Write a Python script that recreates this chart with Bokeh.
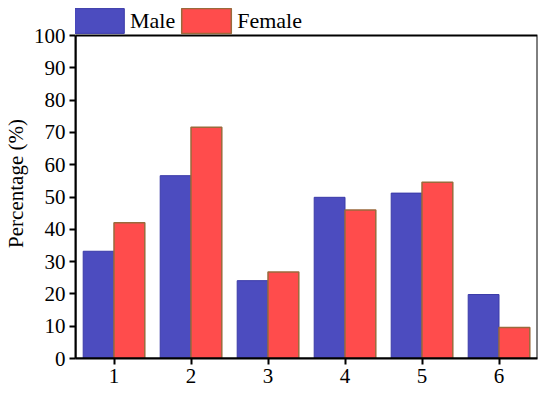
from bokeh.plotting import figure
from bokeh.models import ColumnDataSource, Legend, LegendItem, FixedTicker, Range1d, BoxAnnotation
from bokeh.embed import file_html
from bokeh.resources import INLINE

groups = [1, 2, 3, 4, 5, 6]
male = [33.2, 56.6, 24.1, 49.9, 51.2, 19.8]
female = [42.0, 71.6, 26.8, 46.0, 54.6, 9.6]
y_ticks = [0, 10, 20, 30, 40, 50, 60, 70, 80, 90, 100]

FONT = "Liberation Serif"
Y_MAX = 100
Y_TOP = Y_MAX * 350 / 323  # extra head room for the legend above the box

p = figure(width=550, height=396, output_backend="svg",
           toolbar_location=None, x_range=Range1d(0.5, 6.5), y_range=Range1d(0, Y_TOP),
           min_border_top=8, min_border_left=75, min_border_right=13, min_border_bottom=38)

src_m = ColumnDataSource(dict(x=[g - 0.2 for g in groups], top=male))
src_f = ColumnDataSource(dict(x=[g + 0.2 for g in groups], top=female))
rm = p.vbar(x="x", top="top", width=0.4, bottom=0, source=src_m,
            fill_color="#4C4CBF", line_color="#3A3AA8", line_width=1)
rf = p.vbar(x="x", top="top", width=0.4, bottom=0, source=src_f,
            fill_color="#FF4C4C", line_color="#9A6A3C", line_width=1.5)

p.xgrid.visible = False
p.ygrid.visible = False
p.outline_line_color = None

box = BoxAnnotation(left=0.5, right=6.5, bottom=0, top=Y_MAX, fill_alpha=0,
                    line_color="black", line_width=2, line_alpha=1)
p.add_layout(box)

for ax in (p.xaxis[0], p.yaxis[0]):
    ax.axis_line_width = 2
    ax.major_tick_line_width = 2
    ax.major_tick_in = 0
    ax.major_tick_out = 6
    ax.minor_tick_line_color = None
    ax.major_label_text_font = FONT
    ax.major_label_text_font_size = "21px"
    ax.major_label_text_color = "black"
    ax.major_label_standoff = 4

p.xaxis.ticker = FixedTicker(ticks=groups)
p.yaxis.ticker = FixedTicker(ticks=y_ticks)
p.yaxis.bounds = (0, Y_MAX)
p.yaxis.axis_label = "Percentage (%)"
p.yaxis.axis_label_text_font = FONT
p.yaxis.axis_label_text_font_size = "21px"
p.yaxis.axis_label_text_font_style = "normal"
p.yaxis.axis_label_text_color = "black"
p.yaxis.axis_label_standoff = 3

legend = Legend(items=[LegendItem(label="Male", renderers=[rm]),
                       LegendItem(label="Female", renderers=[rf])],
                orientation="horizontal", location=(-7, 322),
                glyph_width=62, glyph_height=31, label_height=31,
                label_text_font=FONT, label_text_font_size="22px",
                label_text_color="black", label_text_baseline="middle",
                label_standoff=0, spacing=0, padding=0, margin=0,
                border_line_color=None, background_fill_alpha=0)
p.add_layout(legend, "center")

open("out.html", "w").write(file_html(p, INLINE))
